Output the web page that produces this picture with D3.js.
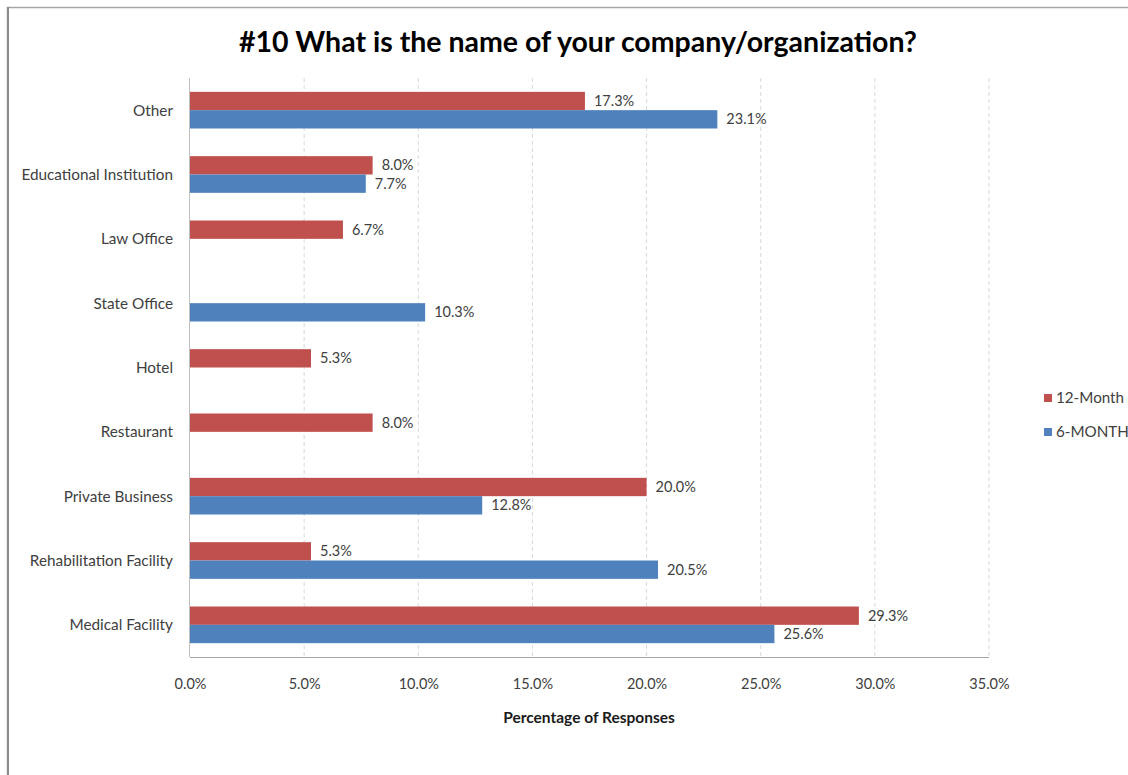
<!DOCTYPE html>
<html>
<head>
<meta charset="utf-8">
<script src="https://cdn.jsdelivr.net/npm/d3@7"></script>
<style>
  body { margin: 0; background: #fff; }
  text { font-family: Lato, "Open Sans", sans-serif; }
</style>
</head>
<body>
<div id="chart"></div>
<script>
  const categories = ["Other", "Educational Institution", "Law Office", "State Office", "Hotel",
    "Restaurant", "Private Business", "Rehabilitation Facility", "Medical Facility"];
  const seriesNames = ["12-Month", "6-MONTH"];
  const twelveMonth = [17.3, 8.0, 6.7, null, 5.3, 8.0, 20.0, 5.3, 29.3];
  const sixMonth = [23.1, 7.7, null, 10.3, null, null, 12.8, 20.5, 25.6];
  const xTicks = [0, 5, 10, 15, 20, 25, 30, 35];
  const colors = ["#C0504D", "#4F81BD"];

  const W = 1128, H = 775;
  const plot = { left: 190, right: 989, top: 78, bottom: 657 };

  const svg = d3.select("#chart").append("svg")
    .attr("width", W)
    .attr("height", H);

  // outer frame of the chart
  svg.append("rect")
    .attr("x", 7.5).attr("y", 7.5)
    .attr("width", W + 20).attr("height", H + 20)
    .attr("fill", "none")
    .attr("stroke", "#a6a6a6")
    .attr("stroke-width", 1.5);
  svg.append("line")
    .attr("x1", 8).attr("x2", 8).attr("y1", 7).attr("y2", H)
    .attr("stroke", "#8c8c8c").attr("stroke-width", 2);

  svg.append("text")
    .attr("x", 578).attr("y", 52)
    .attr("text-anchor", "middle")
    .attr("font-size", "28.5px")
    .attr("font-weight", "bold")
    .attr("fill", "#000")
    .text("#10 What is the name of your company/organization?");

  const x = d3.scaleLinear().domain([0, 35]).range([plot.left, plot.right]);
  const y = d3.scaleBand().domain(categories).range([plot.top, plot.bottom]).paddingInner(0.43).paddingOuter(0.215);
  const ySub = d3.scaleBand().domain(seriesNames).range([0, y.bandwidth()]);

  // dashed gridlines
  svg.append("g").selectAll("line")
    .data(xTicks.slice(1))
    .join("line")
    .attr("x1", d => x(d)).attr("x2", d => x(d))
    .attr("y1", plot.top).attr("y2", plot.bottom)
    .attr("stroke", "#d9d9d9")
    .attr("stroke-dasharray", "4 3");

  // plot edges
  svg.append("line")
    .attr("x1", plot.left).attr("x2", plot.right)
    .attr("y1", plot.bottom + 0.5).attr("y2", plot.bottom + 0.5)
    .attr("stroke", "#a6a6a6");
  svg.append("line")
    .attr("x1", plot.left - 0.5).attr("x2", plot.left - 0.5)
    .attr("y1", plot.top).attr("y2", plot.bottom)
    .attr("stroke", "#bfbfbf");

  const rows = categories.map((c, i) => ({ cat: c, vals: [twelveMonth[i], sixMonth[i]] }));
  const bars = [];
  rows.forEach(r => r.vals.forEach((v, j) => {
    if (v !== null) bars.push({ cat: r.cat, series: seriesNames[j], value: v, color: colors[j] });
  }));

  svg.append("g").selectAll("rect")
    .data(bars)
    .join("rect")
    .attr("x", x(0))
    .attr("y", d => y(d.cat) + ySub(d.series))
    .attr("width", d => x(d.value) - x(0))
    .attr("height", ySub.bandwidth())
    .attr("fill", d => d.color);

  svg.append("g").selectAll("text")
    .data(bars)
    .join("text")
    .attr("x", d => x(d.value) + 9)
    .attr("y", d => y(d.cat) + ySub(d.series) + ySub.bandwidth() / 2)
    .attr("dy", "0.35em")
    .attr("font-size", "14.5px")
    .attr("fill", "#404040")
    .text(d => d.value.toFixed(1) + "%");

  // category labels
  svg.append("g").selectAll("text")
    .data(categories)
    .join("text")
    .attr("x", 173)
    .attr("y", d => y(d) + y.bandwidth() / 2)
    .attr("dy", "0.35em")
    .attr("text-anchor", "end")
    .attr("font-size", "15.3px")
    .attr("fill", "#404040")
    .text(d => d);

  // x axis tick labels
  const xAxis = d3.axisBottom(x).tickValues(xTicks).tickSize(0).tickPadding(0)
    .tickFormat(d => d.toFixed(1) + "%");
  const gx = svg.append("g")
    .attr("transform", "translate(0," + (plot.bottom + 22) + ")")
    .call(xAxis);
  gx.select(".domain").remove();
  gx.selectAll("text")
    .attr("font-size", "14.5px")
    .attr("font-family", "Lato, sans-serif")
    .attr("fill", "#404040");

  svg.append("text")
    .attr("x", 589).attr("y", 723)
    .attr("text-anchor", "middle")
    .attr("font-size", "15.5px")
    .attr("font-weight", "bold")
    .attr("fill", "#1a1a1a")
    .text("Percentage of Responses");

  // legend
  const legend = svg.append("g").selectAll("g")
    .data(seriesNames)
    .join("g")
    .attr("transform", (d, i) => "translate(1044," + (398 + i * 34) + ")");
  legend.append("rect")
    .attr("x", 0).attr("y", -4)
    .attr("width", 8).attr("height", 8)
    .attr("fill", (d, i) => colors[i]);
  legend.append("text")
    .attr("x", 12).attr("dy", "0.35em")
    .attr("font-size", "15.2px")
    .attr("fill", "#404040")
    .text(d => d);
</script>
</body>
</html>
